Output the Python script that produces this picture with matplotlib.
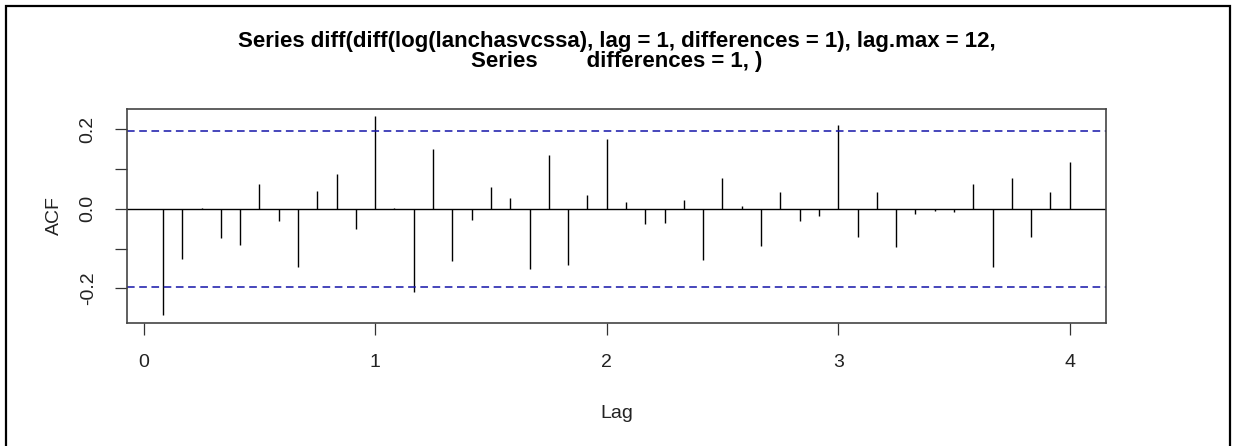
import numpy as np
import matplotlib
matplotlib.use("Agg")
import matplotlib.pyplot as plt
from matplotlib.patches import Rectangle

# ACF values for lags 1..48 (in months), plotted in years (lag/12)
lag_months = list(range(1, 49))
acf_values = [
    -0.267, -0.126, 0.002, -0.074, -0.090, 0.061, -0.032, -0.147, 0.044, 0.087, -0.051, 0.232,
    0.002, -0.209, 0.150, -0.130, -0.028, 0.054, 0.028, -0.152, 0.134, -0.140, 0.035, 0.176,
    0.018, -0.038, -0.035, 0.021, -0.129, 0.078, 0.008, -0.094, 0.041, -0.032, -0.018, 0.209,
    -0.071, 0.041, -0.097, -0.014, -0.006, -0.009, 0.061, -0.147, 0.078, -0.071, 0.041, 0.116,
]
conf_limit = 0.196
x_ticks = [0, 1, 2, 3, 4]
y_ticks = [-0.2, -0.1, 0.0, 0.1, 0.2]
y_tick_labels = ["-0.2", "", "0.0", "", "0.2"]
title_lines = ["Series diff(diff(log(lanchasvcssa), lag = 1, differences = 1), lag.max = 12,",
               "Series        differences = 1, )"]

plt.rcParams['font.family'] = ['Liberation Sans', 'DejaVu Sans']

W, H = 1234, 446
fig = plt.figure(figsize=(W / 100, H / 100), dpi=100)
fig.patch.set_facecolor("white")

# outer document frame
fig.patches.append(Rectangle((6 / W, -0.05), (1230 - 6) / W, 1 + 0.05 - 5.5 / H,
                             transform=fig.transFigure, fill=False,
                             edgecolor="black", linewidth=1.6, zorder=10))

ax = fig.add_axes([126.7 / W, 1 - 323 / H, (1106 - 126.7) / W, (323 - 109) / H])

lags = np.array(lag_months) / 12.0
ax.vlines(lags, 0, acf_values, color="black", linewidth=1.0)
ax.axhline(0, color="black", linewidth=1.0)
ax.axhline(conf_limit, color="#1414a8", linewidth=1.1, linestyle=(0, (5, 3)))
ax.axhline(-conf_limit, color="#1414a8", linewidth=1.1, linestyle=(0, (5, 3)))

ax.set_xlim(-0.0733, 4.1567)
ax.set_ylim(-0.2865, 0.25)

ax.set_xticks(x_ticks)
ax.set_xticklabels([str(t) for t in x_ticks], fontsize=14, color="#222222")
ax.set_yticks(y_ticks)
ax.set_yticklabels(y_tick_labels, fontsize=14, rotation=90, va="center", color="#222222")
ax.tick_params(axis="both", direction="out", length=8.6, width=0.9, color="#333333")
ax.tick_params(axis="x", pad=14)
ax.tick_params(axis="y", pad=13)

for sp in ax.spines.values():
    sp.set_color("#444444")
    sp.set_linewidth(1.2)

ax.set_xlabel("Lag", fontsize=14, labelpad=24, color="#222222")
ax.set_ylabel("ACF", fontsize=14, labelpad=12, color="#222222")

for line, yc in zip(title_lines, [42, 61]):
    fig.text(617 / W, 1 - yc / H, line, ha="center", va="center",
             fontsize=16, fontweight="bold")

fig.savefig("out.png", dpi=100, facecolor="white")
